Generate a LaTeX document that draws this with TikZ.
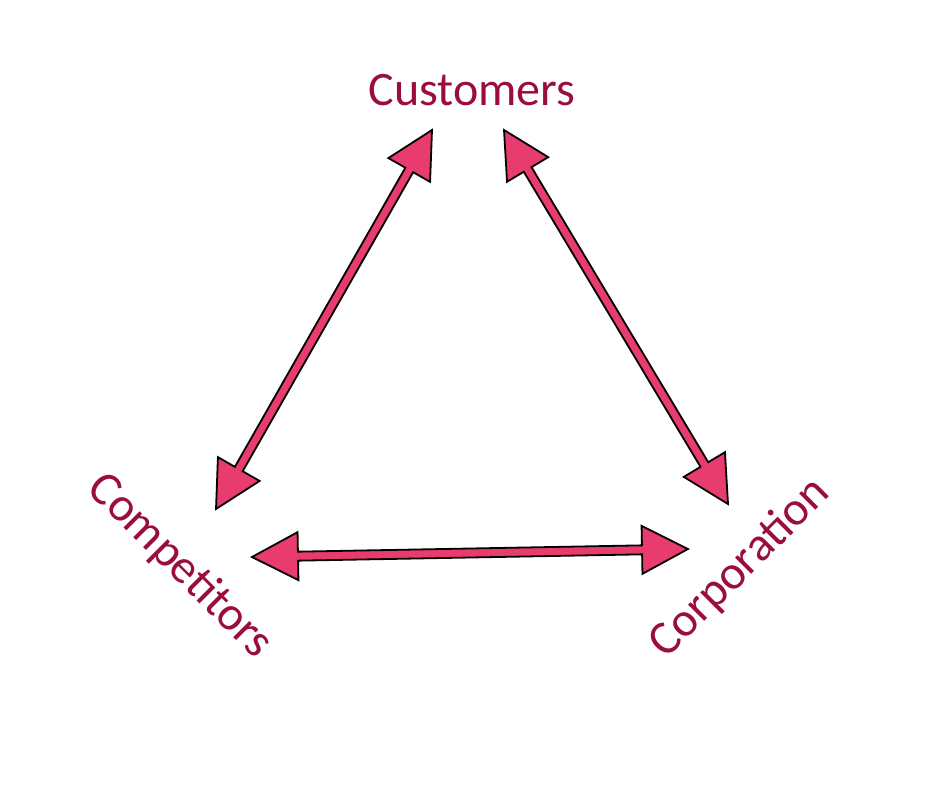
\documentclass[tikz,border=0pt]{standalone}
\usepackage{fontspec}
\setmainfont{Carlito}
\usetikzlibrary{calc}
\definecolor{labelred}{HTML}{9A0E3E}
\definecolor{arrowpink}{HTML}{E83C6E}
\tikzset{
  label text/.style={text=labelred, font=\fontsize{48}{52}\selectfont, inner sep=0pt},
  block arrow/.style={fill=arrowpink, draw=black, line width=1.8pt, line join=miter},
}
\newcommand{\dblarrow}[2]{%
  \path[block arrow]
    (#1)
    -- ($(#1)!46pt!(#2)!24pt!90:(#2)$)
    -- ($(#1)!46pt!(#2)!4.5pt!90:(#2)$)
    -- ($(#2)!46pt!(#1)!4.5pt!-90:(#1)$)
    -- ($(#2)!46pt!(#1)!24pt!-90:(#1)$)
    -- (#2)
    -- ($(#2)!46pt!(#1)!24pt!90:(#1)$)
    -- ($(#2)!46pt!(#1)!4.5pt!90:(#1)$)
    -- ($(#1)!46pt!(#2)!4.5pt!-90:(#2)$)
    -- ($(#1)!46pt!(#2)!24pt!-90:(#2)$)
    -- cycle;}
\begin{document}
\begin{tikzpicture}[x=1pt,y=-1pt]
\useasboundingbox (0,0) rectangle (928,804);
\node[label text] (customers) at (472,90) {Customers};
\node[label text, rotate=-45] (competitors) at (180,566) {Competitors};
\node[label text, rotate=45] (corporation) at (740,568) {Corporation};
\coordinate (cuL) at (432,130);
\coordinate (coT) at (216,509);
\coordinate (cuR) at (504,130);
\coordinate (cpT) at (728,504);
\coordinate (coR) at (252,557);
\coordinate (cpL) at (688,549);
\dblarrow{cuL}{coT}
\dblarrow{cuR}{cpT}
\dblarrow{coR}{cpL}
\end{tikzpicture}
\end{document}
